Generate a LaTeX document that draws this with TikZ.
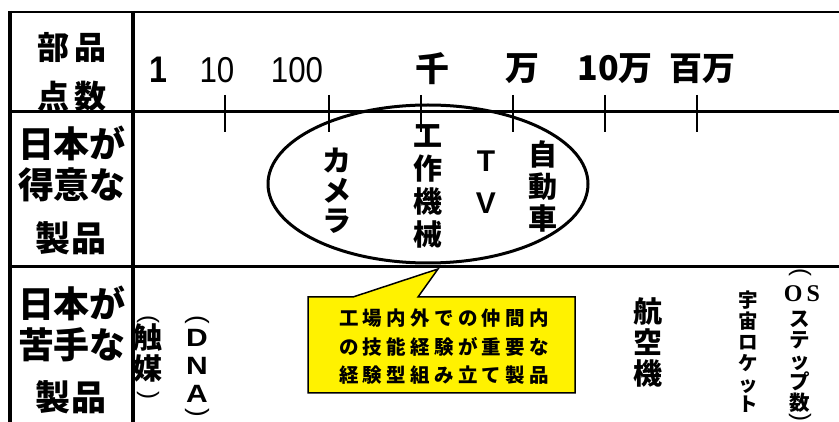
\documentclass[tikz,border=0pt]{standalone}
\usepackage{fontspec}
\setmainfont{Liberation Sans}
\newfontfamily\jp{Noto Sans CJK JP}
\newfontfamily\serifb{Liberation Serif}
\begin{document}
\begin{tikzpicture}[x=1pt,y=-1pt,
  jpb/.style={inner sep=0pt, font=\jp\bfseries\fontsize{#1}{#1}\selectfont},
  jps/.style 2 args={inner sep=0pt, font=\jp\bfseries\fontsize{#1}{#1}\selectfont\addfontfeature{LetterSpace=#2}},
  vstack/.style 2 args={inner sep=0pt, align=center, font=\jp\bfseries\fontsize{#1}{#2}\selectfont},
  lstack/.style 2 args={inner sep=0pt, align=center, font=\bfseries\fontsize{#1}{#2}\selectfont},
  num/.style={inner sep=0pt, font=\fontsize{36}{36}\selectfont\addfontfeature{FakeStretch=0.87}},
  vparen/.style={inner sep=0pt, rotate=-90, font=\fontsize{#1}{#1}\selectfont},
  frame/.style={line width=#1, black},
  tick/.style={line width=1.3pt},
  callbox/.style={fill=yellow, draw=black, line width=1.5pt, line join=miter},
]
\useasboundingbox (0,0) rectangle (839,422);
\fill[white] (0,0) rectangle (839,422);

% table frame
\draw[frame=2pt] (8,12) -- (839,12);
\draw[frame=3pt] (8,112) -- (839,112);
\draw[frame=3pt] (8,267) -- (839,267);
\draw[frame=4pt] (10,11) -- (10,422);
\draw[frame=4.5pt] (133,11) -- (133,422);

% ticks
\foreach \t in {225,329,421,513,605,697}
  \draw[tick] (\t,95) -- (\t,132);

% axis labels
\node[num, font=\bfseries\fontsize{37}{37}\selectfont\addfontfeature{FakeStretch=0.87}] (n1) at (158,70) {1};
\node[num] (n10) at (217,70) {10};
\node[num] (n100) at (297,70) {100};
\node[jpb=34] (sen) at (432,69) {千};
\node[jpb=34] (man) at (522,69) {万};
\node[jpb=34] (jman) at (615,69) {10万};
\node[jpb=33] (hman) at (702,69) {百万};

% left column
\node[jps={32}{14}] (bh) at (72,48) {部品};
\node[jps={32}{14}] (ts) at (72,96) {点数};
\node[jpb=36] (nk1) at (72,143) {日本が};
\node[jpb=36] (tk) at (72,185) {得意な};
\node[jps={35}{5}] (sh1) at (71,238) {製品};
\node[jpb=36] (nk2) at (72,303) {日本が};
\node[jpb=36] (ng) at (72,345) {苦手な};
\node[jps={35}{5}] (sh2) at (71,397) {製品};

% good products
\draw[line width=3pt] (428,184) ellipse [x radius=160pt, y radius=79pt];
\node[vstack={29}{30}] (cam) at (337,191) {カ\\メ\\ラ};
\node[vstack={29}{33}] (kos) at (428,186.5) {工\\作\\機\\械};
\node[lstack={30}{42}] (tv) at (486,182) {T\\V};
\node[vstack={29}{32}] (jid) at (543,186) {自\\動\\車};

% callout
\draw[callbox] (308,297) -- (353,297) -- (438,269) -- (418,297) -- (575,297)
  -- (575,393) -- (308,393) -- cycle;
\node[inner sep=0pt, align=center,
  font=\jp\bfseries\fontsize{19.5}{28.5}\selectfont\addfontfeature{LetterSpace=22}]
  (call) at (444,347) {工場内外での仲間内\\の技能経験が重要な\\経験型組み立て製品};

% weak products
\node[vparen=24] (shl) at (148,319) {(};
\node[vstack={29}{31}] (shk) at (148,352.5) {触\\媒};
\node[vparen=24] (shr) at (148,395) {)};
\node[vparen=26] (dnl) at (197,320) {(};
\node[lstack={25}{28}, font=\bfseries\fontsize{25}{28}\selectfont\addfontfeature{FakeStretch=1.2}] (dna) at (197,366) {D\\N\\A};
\node[vparen=26] (dnr) at (197,413) {)};
\node[vstack={29}{31}] (kok) at (648,342) {航\\空\\機};
\node[vstack={19.5}{20.8}] (roc) at (748,352) {宇\\宙\\ロ\\ケ\\ッ\\ト};
\node[vparen=24] (osl) at (800,272) {(};
\node[inner sep=0pt, font=\serifb\bfseries\fontsize{24}{24}\selectfont] (os) at (802,294) {O\,S};
\node[vstack={20.5}{21}] (ossteps) at (800,361.5) {ス\\テ\\ッ\\プ\\数};
\node[vparen=24] (osr) at (800,417.5) {)};
\end{tikzpicture}
\end{document}
